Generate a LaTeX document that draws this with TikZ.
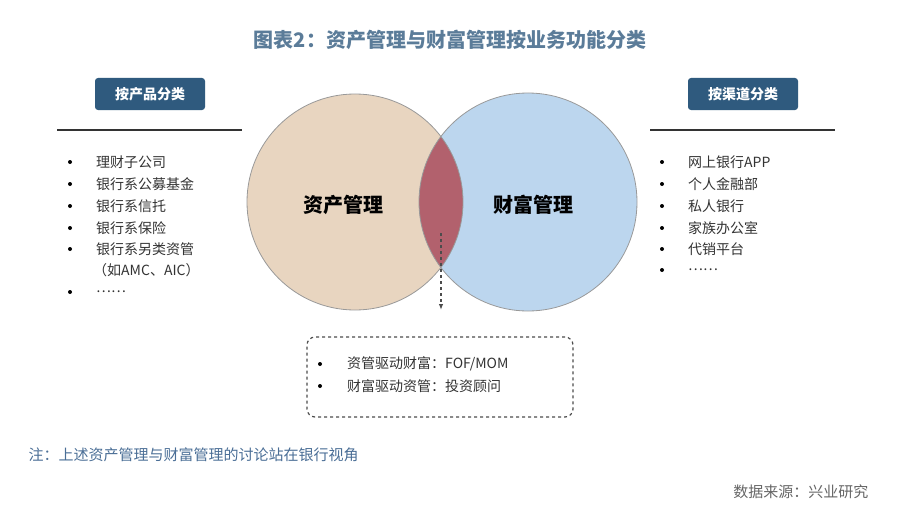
\documentclass[tikz,border=0pt]{standalone}
\usepackage{fontspec}
\setmainfont{Noto Sans CJK SC}
\usetikzlibrary{arrows.meta}
\definecolor{tealt}{HTML}{5B7C99}
\definecolor{boxb}{HTML}{2F5A7E}
\definecolor{tan}{HTML}{E8D5C0}
\definecolor{sky}{HTML}{BCD6EE}
\definecolor{mid}{HTML}{B2616D}
\definecolor{notec}{HTML}{4A6E96}
\tikzset{lab/.style={fill=boxb,rounded corners=3pt,text=white,font=\bfseries\fontsize{14}{16}\selectfont,minimum width=110pt,minimum height=32pt},
it/.style={anchor=west,font=\fontsize{14}{16}\selectfont,text=black!80,inner sep=0pt},
bul/.style={circle,fill=black,inner sep=0pt,minimum size=4pt}}
\begin{document}
\begin{tikzpicture}[x=1pt,y=-1pt]
\useasboundingbox (0,0) rectangle (900,527);
\fill[white] (0,0) rectangle (900,527);
\node[font=\bfseries\fontsize{20}{23}\selectfont,text=tealt] (title) at (450,40) {图表2：资产管理与财富管理按业务功能分类};
\node[lab] (lb) at (150,94) {按产品分类};
\node[lab] (rb) at (743,94) {按渠道分类};
\draw[black!80,line width=1.2pt] (57,130) coordinate(l1) -- (242,130) coordinate(l2);
\draw[black!80,line width=1.2pt] (650,130) coordinate(r1) -- (835,130) coordinate(r2);
\foreach \y/\t [count=\i] in {162/理财子公司,184/银行系公募基金,206/银行系信托,228/银行系保险,249/银行系另类资管,292/……}{
  \node[bul] (lbu\i) at (70,\y) {}; \node[it] (lt\i) at (96,\y) {\t};}
\node[it] (ltx) at (93,270) {（如AMC、AIC）};
\foreach \y/\t [count=\i] in {162/网上银行APP,184/个人金融部,206/私人银行,228/家族办公室,249/代销平台,270/……}{
  \node[bul] (rbu\i) at (662,\y) {}; \node[it] (rt\i) at (688,\y) {\t};}
\fill[tan] (355,202) circle (108pt);
\fill[sky] (528,202) circle (109pt);
\begin{scope}\clip (355,202) circle (108pt); \fill[mid] (528,202) circle (109pt);\end{scope}
\draw[gray!80,line width=0.8pt] (355,202) circle (108pt);
\draw[gray!80,line width=0.8pt] (528,202) circle (109pt);
\node[font=\bfseries\fontsize{20}{23}\selectfont] (am) at (343,205) {资产管理};
\node[font=\bfseries\fontsize{20}{23}\selectfont] (wm) at (533,205) {财富管理};
\coordinate (a1) at (441,233);
\node[draw=black!70,dashed,line width=1.2pt,rounded corners=8pt,minimum width=266pt,minimum height=80pt] (db) at (440,377) {};
\draw[dashed,line width=1.1pt,black!70,-{Latex[length=6pt]}] (a1) -- (441,310);
\node[bul] (d1) at (320,364) {}; \node[it] (dt1) at (347,364) {资管驱动财富：FOF/MOM};
\node[bul] (d2) at (320,386) {}; \node[it] (dt2) at (347,386) {财富驱动资管：投资顾问};
\node[anchor=west,text=notec,font=\fontsize{15}{17}\selectfont] (note) at (25,455) {注：上述资产管理与财富管理的讨论站在银行视角};
\node[anchor=east,text=black!60,font=\fontsize{15}{17}\selectfont] (src) at (872,492) {数据来源：兴业研究};
\end{tikzpicture}
\end{document}
